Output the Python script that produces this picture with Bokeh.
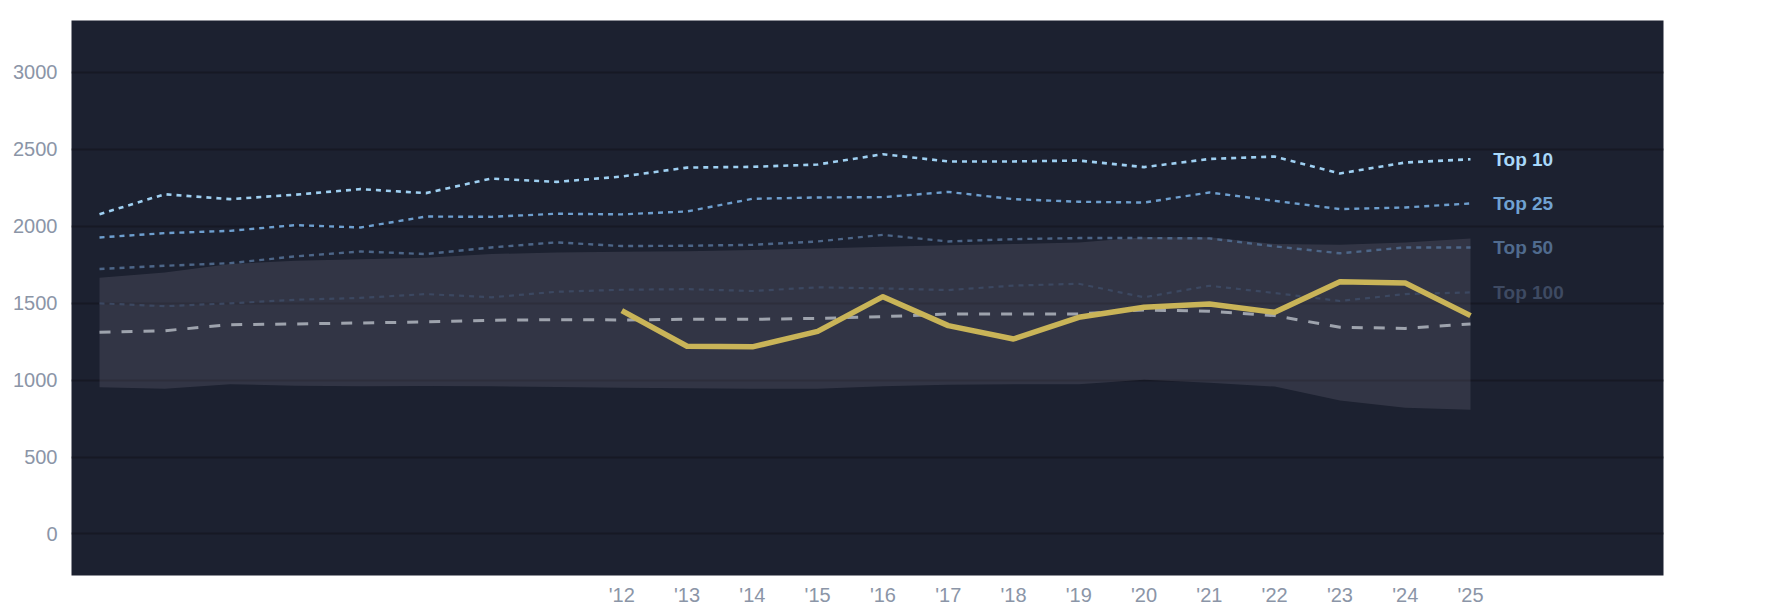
from bokeh.plotting import figure
from bokeh.models import Range1d, FixedTicker, ColumnDataSource
from bokeh.core.properties import value
from bokeh.embed import file_html
from bokeh.resources import INLINE

years = list(range(2004, 2026))
top10 = [2078, 2208, 2176, 2205, 2241, 2215, 2310, 2288, 2323, 2381, 2386, 2401, 2468, 2421, 2421, 2427, 2384, 2437, 2453, 2343, 2414, 2435]
top25 = [1927, 1955, 1970, 2007, 1992, 2063, 2061, 2081, 2077, 2096, 2178, 2187, 2189, 2223, 2176, 2159, 2154, 2219, 2165, 2111, 2122, 2148]
top50 = [1722, 1743, 1760, 1804, 1836, 1819, 1862, 1895, 1871, 1873, 1879, 1901, 1944, 1901, 1916, 1923, 1923, 1921, 1869, 1824, 1862, 1862]
top100 = [1499, 1480, 1499, 1522, 1534, 1559, 1538, 1574, 1587, 1591, 1579, 1603, 1596, 1585, 1614, 1626, 1538, 1613, 1566, 1514, 1559, 1570]
median = [1311, 1321, 1360, 1365, 1371, 1378, 1389, 1393, 1391, 1395, 1395, 1401, 1412, 1430, 1430, 1430, 1456, 1447, 1419, 1343, 1336, 1365]
band_hi = [1665, 1700, 1754, 1776, 1786, 1795, 1819, 1830, 1834, 1838, 1845, 1856, 1866, 1877, 1884, 1895, 1929, 1929, 1885, 1880, 1895, 1921]
band_lo = [954, 943, 973, 964, 960, 962, 960, 955, 951, 947, 943, 943, 960, 970, 973, 973, 1003, 982, 958, 867, 820, 807]
gold_years = list(range(2012, 2026))
gold = [1451, 1220, 1216, 1317, 1542, 1354, 1267, 1408, 1473, 1494, 1441, 1639, 1631, 1419]

tick_years = list(range(2012, 2026))
tick_labels = ["'" + str(y)[2:] for y in tick_years]
y_ticks = [0, 500, 1000, 1500, 2000, 2500, 3000]

series_names = ["Top 10", "Top 25", "Top 50", "Top 100"]
series_values = [top10, top25, top50, top100]
series_colors = ["#9fd0f2", "#6e9fcf", "#4d6688", "#3c4861"]
label_colors = ["#a8d8fa", "#70a2d2", "#506b8e", "#3e4a62"]
series_widths = [2.6, 2.4, 2.4, 2.2]

FONT = "Liberation Sans"

p = figure(frame_width=1592, frame_height=555, output_backend="svg", toolbar_location=None,
           x_range=Range1d(2003.571, 2027.956), y_range=Range1d(-270, 3337),
           min_border_left=71, min_border_top=20, min_border_right=20, min_border_bottom=10)
p.background_fill_color = "#1c2130"
p.border_fill_color = "#ffffff"
p.outline_line_color = None

p.xgrid.visible = False
p.ygrid.grid_line_color = "#161924"
p.ygrid.grid_line_width = 2
p.ygrid.ticker = FixedTicker(ticks=y_ticks)

for ax in (p.xaxis[0], p.yaxis[0]):
    ax.axis_line_color = None
    ax.major_tick_line_color = None
    ax.minor_tick_line_color = None
    ax.major_tick_out = 0
    ax.major_tick_in = 0
    ax.minor_tick_out = 0
    ax.major_label_text_color = "#8b95a7"
    ax.major_label_text_font = FONT
    ax.major_label_text_font_size = "20px"

p.xaxis.ticker = FixedTicker(ticks=tick_years)
p.xaxis.major_label_overrides = {y: l for y, l in zip(tick_years, tick_labels)}
p.xaxis.major_label_standoff = 8
p.yaxis.ticker = FixedTicker(ticks=y_ticks)
p.yaxis.major_label_standoff = 14

# band
p.varea(x=years, y1=band_lo, y2=band_hi, fill_color="#a1a0af", fill_alpha=0.165)

# median dashed
p.line(years, median, line_color="#9ea3ad", line_width=3, line_dash="11 11")

# top-N dotted lines
for vals, col, w in zip(series_values, series_colors, series_widths):
    p.line(years, vals, line_color=col, line_width=w, line_dash="5 5")

# gold line
p.line(gold_years, gold, line_color="#c9b458", line_width=5.5, line_join="round")

# end labels
lab_src = ColumnDataSource(dict(
    x=[years[-1] + 0.35] * 4,
    y=[v[-1] for v in series_values],
    text=series_names,
    color=label_colors,
))
p.text(x="x", y="y", text="text", source=lab_src, text_color="color",
       text_font=value(FONT), text_font_style="bold", text_font_size="19px",
       text_baseline="middle", text_align="left")

open("out.html", "w").write(file_html(p, INLINE))
